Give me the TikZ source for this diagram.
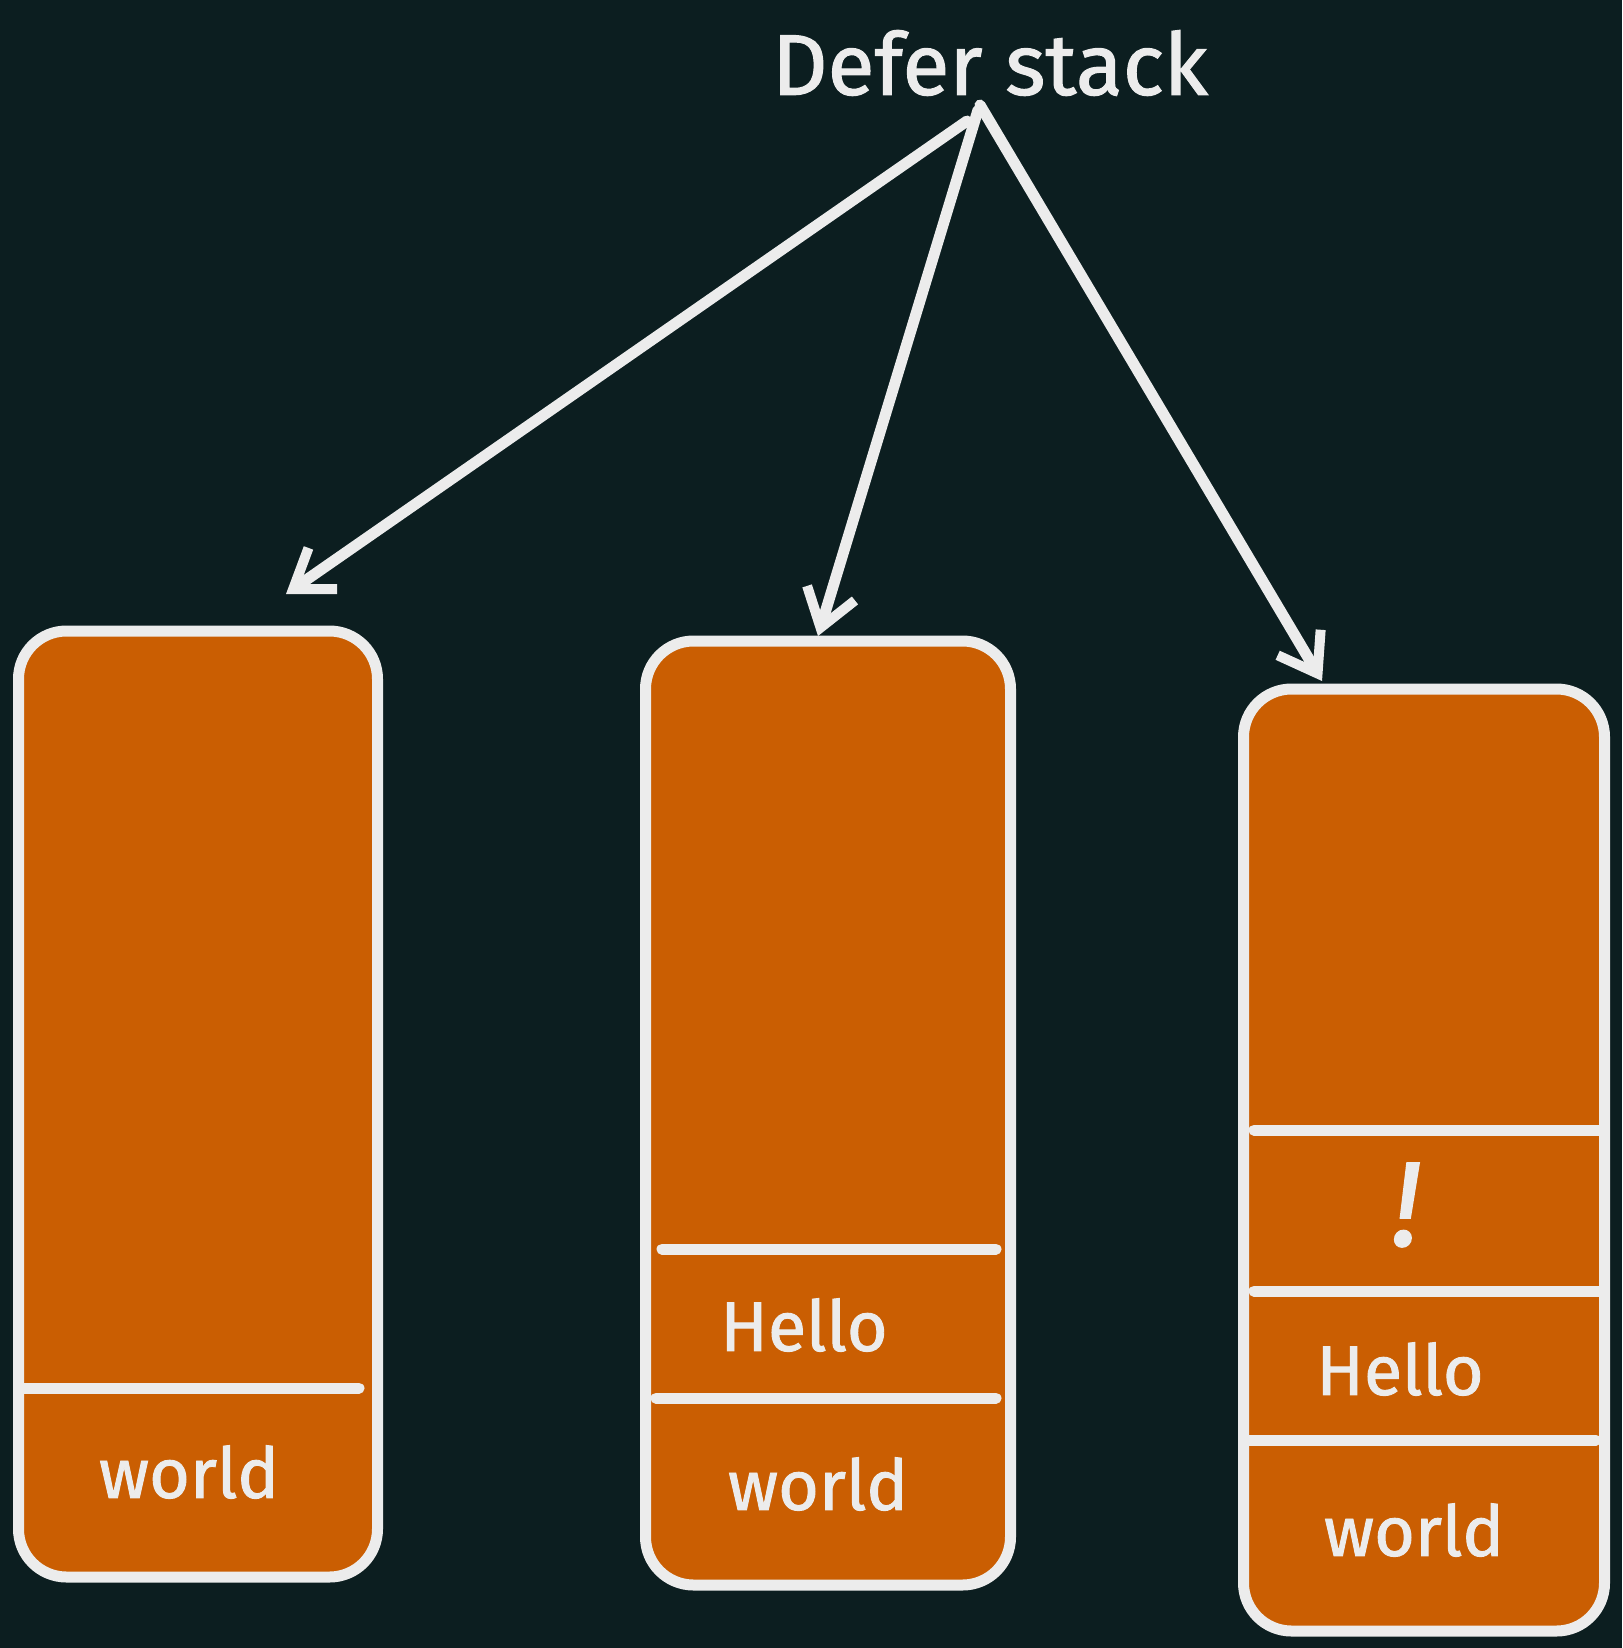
\documentclass[tikz,border=0pt]{standalone}
\usepackage{fontspec}
\setmainfont{Fira Sans}[FakeBold=1.3]
\usetikzlibrary{arrows.meta}
\definecolor{fondo}{HTML}{0C1E20}
\definecolor{naranja}{HTML}{CA5E02}
\definecolor{tiza}{HTML}{ECECEC}
\begin{document}
\begin{tikzpicture}[x=1pt,y=-1pt]
\tikzstyle{pila}=[draw=tiza, fill=naranja, line width=11pt, rounded corners=48pt, inner sep=0pt]% cada pila
\tikzstyle{texto}=[text=tiza, font=\fontsize{70}{74}\selectfont]% texto dentro de la pila
\tikzstyle{raya}=[tiza, line width=11pt, line cap=round]% separador entre elementos
\tikzstyle{flecha}=[tiza, line width=11pt, line cap=round, -{Straight Barb[length=36pt,width=50pt,line width=10pt]}]% flecha desde el titulo
\fill[fondo] (0,0) rectangle (1622,1648);% fondo oscuro
\node[text=tiza, font=\fontsize{86}{96}\selectfont] (titulo) at (990,63) {Defer stack};%cabeza
\node[pila, minimum width=359pt, minimum height=946pt] (pila1) at (198,1104) {};
\node[pila, minimum width=365pt, minimum height=944pt] (pila2) at (828,1113) {};
\node[pila, minimum width=361pt, minimum height=942pt] (pila3) at (1424,1160) {};
% separadores
\draw[raya] ([xshift=10pt]pila1.west |- 0,1388) -- ([xshift=-24pt]pila1.east |- 0,1388);
\draw[raya] ([xshift=22pt]pila2.west |- 0,1249) -- ([xshift=-20pt]pila2.east |- 0,1249);
\draw[raya] ([xshift=16pt]pila2.west |- 0,1398) -- ([xshift=-20pt]pila2.east |- 0,1398);
\draw[raya] ([xshift=16pt]pila3.west |- 0,1130) -- ([xshift=-10pt]pila3.east |- 0,1130);
\draw[raya] ([xshift=16pt]pila3.west |- 0,1291) -- ([xshift=-10pt]pila3.east |- 0,1291);
\draw[raya] ([xshift=10pt]pila3.west |- 0,1440) -- ([xshift=-14pt]pila3.east |- 0,1440);
% elementos
\node[texto] (mundo1) at (189,1472) {world};
\node[texto] (hola2) at (804,1325) {Hello};
\node[texto] (mundo2) at (818,1484) {world};
\node[texto, font=\fontsize{120}{120}\selectfont\itshape] (excl3) at (1406,1205) {!};
\node[texto] (hola3) at (1400,1369) {Hello};
\node[texto] (mundo3) at (1414,1530) {world};
% flechas
\coordinate (origen1) at (967,121);
\coordinate (origen2) at (978,110);
\coordinate (origen3) at (980,105);
\coordinate (punta1) at (286,594);
\coordinate (punta2) at (818,636);
\coordinate (punta3) at (1322,681);
\draw[flecha] (origen1) -- (punta1);
\draw[flecha] (origen2) -- (punta2);
\draw[flecha] (origen3) -- (punta3);
\end{tikzpicture}
\end{document}
